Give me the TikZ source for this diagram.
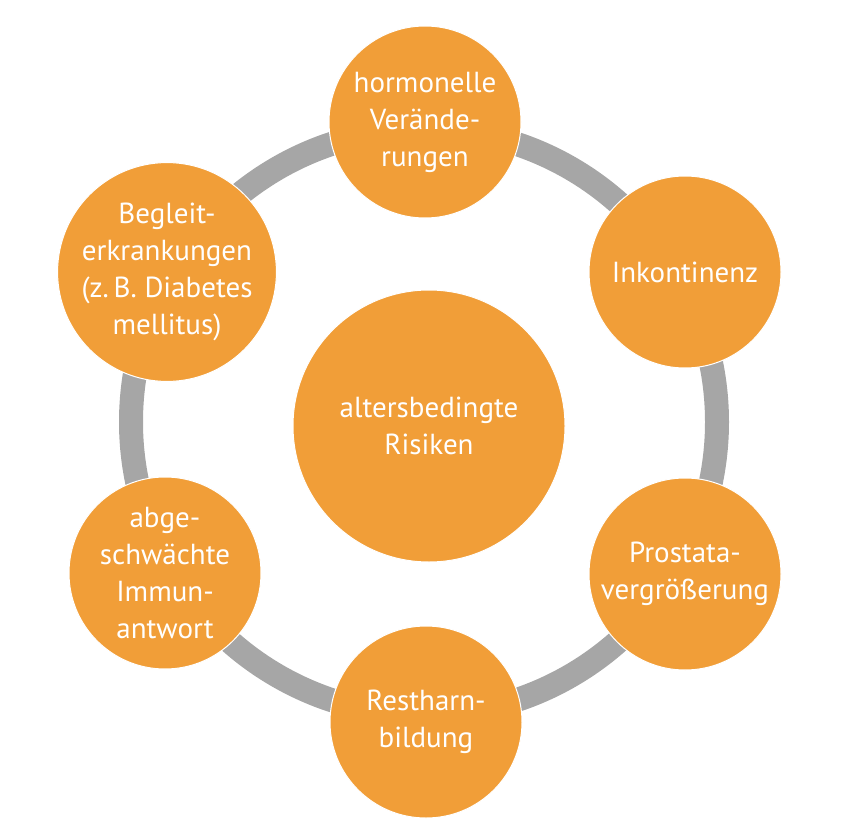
\documentclass[tikz,border=0pt]{standalone}
\usepackage{fontspec}
\setmainfont{PT Sans}
\definecolor{ringgray}{RGB}{166,166,166}
\definecolor{dotorange}{RGB}{241,158,56}
\begin{document}
\begin{tikzpicture}[x=1pt,y=-1pt,
  bubble/.style={circle, fill=dotorange, draw=white, line width=1pt, inner sep=0pt,
    minimum size=192pt, align=center, text=white,
    font=\fontsize{29}{37}\selectfont},
  hub/.style={bubble, minimum size=272pt}]
\useasboundingbox (0,0) rectangle (854,824);
\coordinate (c) at (424,422);
\draw[ringgray, line width=24pt] (c) circle[radius=293pt];
\node[hub] (mid) at (429,426) {altersbedingte\\Risiken};
\node[bubble] (n1) at (425,122) {hormonelle\\Verände-\\rungen};
\node[bubble] (n2) at (685,272) {Inkontinenz};
\node[bubble] (n3) at (685,574) {Prostata-\\vergrößerung};
\node[bubble] (n4) at (426,722) {Restharn-\\bildung};
\node[bubble] (n5) at (165,573) {abge-\\schwächte\\Immun-\\antwort};
\node[bubble] (n6) at (167,272) {Begleit-\\erkrankungen\\(z.\,B. Diabetes\\mellitus)};
\end{tikzpicture}
\end{document}
